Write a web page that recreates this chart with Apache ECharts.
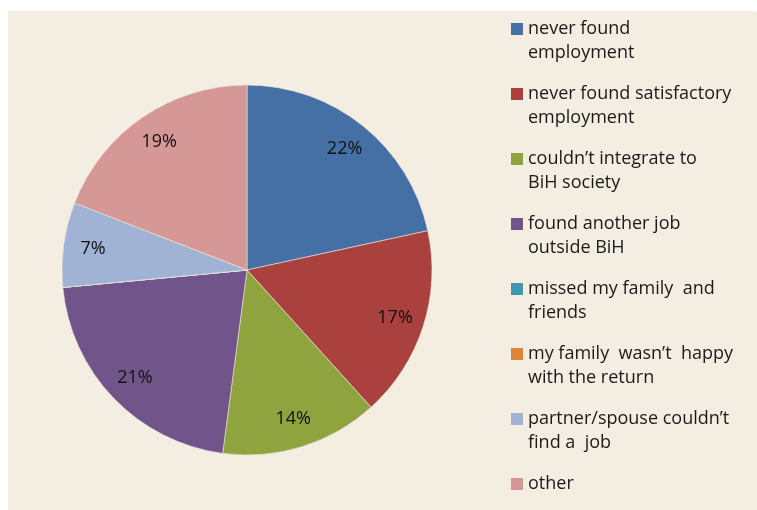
<!DOCTYPE html>
<html>
<head>
<meta charset="utf-8">
<script src="https://cdn.jsdelivr.net/npm/echarts@6/dist/echarts.min.js"></script>
<style>html,body{margin:0;padding:0;background:#fff}#c{width:757px;height:510px}</style>
</head>
<body>
<div id="c"></div>
<script>
const categories = [
  'never found employment',
  'never found satisfactory employment',
  'couldn\u2019t integrate to BiH society',
  'found another job outside BiH',
  'missed my family and friends',
  'my family wasn\u2019t happy with the return',
  'partner/spouse couldn\u2019t find a job',
  'other'
];
const legendLabels = [
  'never found\nemployment',
  'never found satisfactory\nemployment',
  'couldn\u2019t integrate to\nBiH society',
  'found another job\noutside BiH',
  'missed my family  and\nfriends',
  'my family  wasn\u2019t  happy\nwith the return',
  'partner/spouse couldn\u2019t\nfind a  job',
  'other\n '
];
const values = [21.6, 16.7, 13.8, 21.4, 0, 0, 7.4, 19.1];
const colors = ['#4470A6', '#AA413F', '#8FA33F', '#71558A', '#3F98AE', '#DD853A', '#A0B3D4', '#D59896'];

const data = categories.map((c, i) => ({ name: c, value: values[i], itemStyle: { color: colors[i] } }));
const labelMap = {};
categories.forEach((c, i) => labelMap[c] = legendLabels[i]);

const chart = echarts.init(document.getElementById('c'), null, { renderer: 'canvas' });
const cx = 247, cy = 270, R = 185;
chart.setOption({
  animation: false,
  backgroundColor: '#ffffff',
  graphic: [{
    type: 'rect', z: -10, silent: true,
    shape: { x: 8, y: 11, width: 760, height: 510, r: [0, 16, 0, 0] },
    style: { fill: '#F4EEE2' }
  }],
  legend: {
    orient: 'vertical',
    left: 506, top: 12, height: 700,
    itemWidth: 12, itemHeight: 48, itemGap: 17,
    icon: 'path://M0,6h12v12h-12z M0,0h12 M0,48h12',
    itemStyle: { borderWidth: 0 },
    formatter: n => labelMap[n],
    textStyle: { fontFamily: 'Open Sans', fontSize: 18, color: '#1a1a1a', lineHeight: 24, padding: [0, 0, 0, 0] },
    data: categories
  },
  series: [{
    type: 'pie',
    center: [cx, cy], radius: [0, R],
    startAngle: 90, clockwise: true,
    silent: true,
    label: { show: false }, labelLine: { show: false },
    itemStyle: { borderColor: '#EFE7DA', borderWidth: 0.6 },
    data: data
  }, {
    type: 'pie',
    center: [cx, cy], radius: [120, R],
    startAngle: 90, clockwise: true,
    silent: true, legendHoverLink: false,
    itemStyle: { color: 'rgba(0,0,0,0)', borderWidth: 0 },
    label: {
      show: true, position: 'inside',
      formatter: p => p.value > 0 ? Math.round(p.value) + '%' : '',
      fontFamily: 'Open Sans', fontSize: 18, color: '#111'
    },
    labelLine: { show: false },
    data: categories.map((c, i) => ({ name: c + ' ', value: values[i] }))
  }]
});
</script>
</body>
</html>
